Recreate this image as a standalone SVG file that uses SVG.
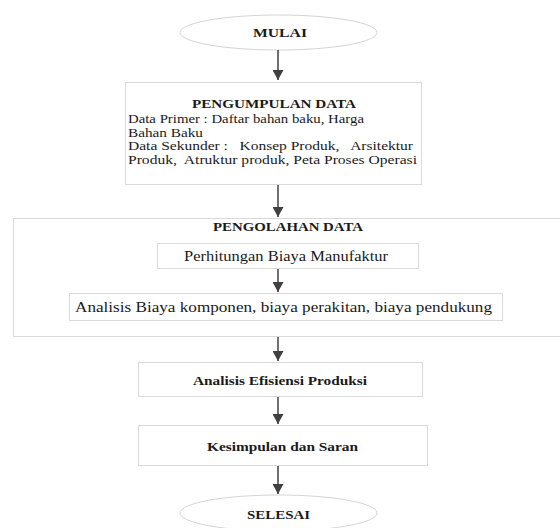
<svg xmlns="http://www.w3.org/2000/svg" width="560" height="528" viewBox="0 0 560 528">
<style>
.box{fill:#ffffff;stroke:#d9d9d9;stroke-width:1}
.oval{fill:#ffffff;stroke:#d4d4d4;stroke-width:1}
.t{font-family:"Liberation Serif","Times New Roman",serif;fill:#1a1a1a}
.b{font-weight:bold;font-size:11.5px}
.r{font-size:13.5px}
.c{font-size:14.5px}
.con{stroke:#404040;stroke-width:1.5;fill:none;marker-end:url(#ah)}
</style>
<defs>
<marker id="ah" viewBox="0 0 10 11" refX="10" refY="5.5" markerWidth="10" markerHeight="11" markerUnits="userSpaceOnUse" orient="auto">
<path d="M0,0 L10,5.5 L0,11 Z" fill="#404040"/>
</marker>
</defs>
<rect width="560" height="528" fill="#ffffff"/>
<g id="mulai">
<ellipse class="oval" cx="278.5" cy="32.5" rx="98.5" ry="17.5"/>
<text class="t b" x="253" y="37" textLength="54" lengthAdjust="spacingAndGlyphs">MULAI</text>
</g>
<g id="pengumpulan">
<rect class="box" x="125.5" y="82.5" width="296" height="102"/>
<text class="t b" x="192" y="108" textLength="164" lengthAdjust="spacingAndGlyphs">PENGUMPULAN DATA</text>
<text class="t r" x="128" y="123" textLength="236" lengthAdjust="spacingAndGlyphs">Data Primer : Daftar bahan baku, Harga</text>
<text class="t r" x="128" y="136.5" textLength="75" lengthAdjust="spacingAndGlyphs">Bahan Baku</text>
<text class="t r" x="128" y="150" textLength="285" lengthAdjust="spacingAndGlyphs" style="white-space:pre">Data Sekunder :   Konsep Produk,   Arsitektur</text>
<text class="t r" x="128" y="163.5" textLength="289" lengthAdjust="spacingAndGlyphs" style="white-space:pre">Produk,  Atruktur produk, Peta Proses Operasi</text>
</g>
<g id="pengolahan">
<rect class="box" x="13.5" y="218.5" width="560" height="118"/>
<text class="t b" x="213" y="231" textLength="150" lengthAdjust="spacingAndGlyphs">PENGOLAHAN DATA</text>
</g>
<g id="perhitungan">
<rect class="box" x="157.5" y="243.5" width="261" height="25"/>
<text class="t c" x="184" y="260.5" textLength="204" lengthAdjust="spacingAndGlyphs">Perhitungan Biaya Manufaktur</text>
</g>
<g id="analisis-biaya">
<rect class="box" x="69.5" y="293.5" width="433" height="27"/>
<text class="t c" x="75" y="312" textLength="417" lengthAdjust="spacingAndGlyphs">Analisis Biaya komponen, biaya perakitan, biaya pendukung</text>
</g>
<g id="efisiensi">
<rect class="box" x="138.5" y="362.5" width="284" height="34"/>
<text class="t b" x="193" y="385" textLength="174" lengthAdjust="spacingAndGlyphs">Analisis Efisiensi Produksi</text>
</g>
<g id="kesimpulan">
<rect class="box" x="138.5" y="425.5" width="289" height="40"/>
<text class="t b" x="207" y="451" textLength="151" lengthAdjust="spacingAndGlyphs">Kesimpulan dan Saran</text>
</g>
<g id="selesai">
<ellipse class="oval" cx="278.5" cy="513" rx="98.5" ry="18"/>
<text class="t b" x="247" y="519" textLength="63" lengthAdjust="spacingAndGlyphs">SELESAI</text>
</g>
<g id="connectors">
<path class="con" d="M278,50 V80"/>
<path class="con" d="M278,185 V217"/>
<path class="con" d="M278,269 V292"/>
<path class="con" d="M278,337 V361"/>
<path class="con" d="M278,397 V424"/>
<path class="con" d="M278,466 V494"/>
</g>
</svg>
